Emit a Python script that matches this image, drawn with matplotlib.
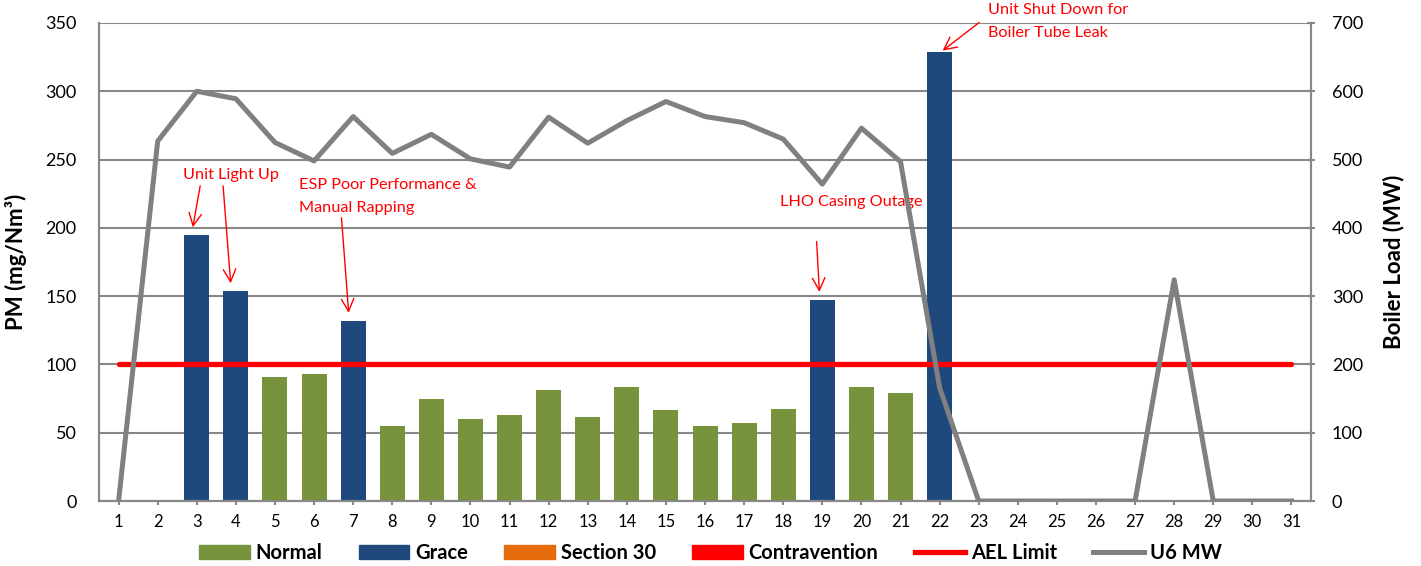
import numpy as np
import matplotlib
matplotlib.use("Agg")
import matplotlib.pyplot as plt
from matplotlib.patches import Patch
from matplotlib.lines import Line2D

plt.rcParams['font.family'] = ['Lato', 'DejaVu Sans']

days = list(range(1, 32))
normal = [np.nan, np.nan, np.nan, np.nan, 91, 93, np.nan, 55, 74.5, 60, 63, 81, 61.5, 83.5, 66.5,
          55, 57, 67.5, np.nan, 83.5, 79, np.nan] + [np.nan] * 9
grace = [np.nan, np.nan, 195, 154, np.nan, np.nan, 132, np.nan, np.nan, np.nan, np.nan, np.nan, np.nan,
         np.nan, np.nan, np.nan, np.nan, np.nan, 147.5, np.nan, np.nan, 329] + [np.nan] * 9
ael_limit = [100] * 31
u6_mw = [0, 527, 600, 589, 525, 498, 563, 509, 537, 501, 489, 562, 524, 557, 585, 563, 554, 530,
         464, 546, 497, 166, 0, 0, 0, 0, 0, 324, 0, 0, 0]

annotations = [
    ("Unit Light Up", (2.64, 238.5)),
    ("ESP Poor Performance &\nManual Rapping", (5.62, 223)),
    ("LHO Casing Outage", (17.91, 219)),
    ("Unit Shut Down for\nBoiler Tube Leak", (23.25, 351)),
]
arrows = [((3.10, 232.8), (2.885, 198.4)),
          ((3.667, 232.8), (3.872, 157.4)),
          ((6.696, 209.4), (6.89, 135.7)),
          ((18.85, 192), (18.93, 151)),
          ((23.07, 351.6), (22.02, 328.5))]

GREEN = '#77933C'
BLUE = '#1F497D'
ORANGE = '#E46C0A'
RED = '#FF0000'
GRAY = '#808080'
GRID = '#888888'

fig = plt.figure(figsize=(14.21, 5.66), dpi=100)
ax = fig.add_axes([0.0697, 0.1148, 0.8529, 0.8446])
ax2 = ax.twinx()

x = np.array(days)
ax.bar(x, normal, width=0.64, color=GREEN, zorder=2)
ax.bar(x, grace, width=0.64, color=BLUE, zorder=2)
ax.plot(x, ael_limit, color=RED, lw=3.8, solid_capstyle='round', zorder=3)
ax2.plot(x, u6_mw, color=GRAY, lw=3.6, zorder=4)

ax.set_xlim(0.5, 31.5)
ax.set_ylim(0, 350)
ax2.set_ylim(0, 700)
ax.set_yticks(range(0, 351, 50))
ax2.set_yticks(range(0, 701, 100))
ax.set_xticks(x)
ax.set_xticklabels([str(d) for d in days])
ax.yaxis.grid(True, color=GRID, lw=1.5, zorder=0)
ax.set_axisbelow(True)

for a in (ax, ax2):
    for s in a.spines.values():
        s.set_color(GRID)
        s.set_linewidth(1.5)
    a.spines['top'].set_visible(False)
ax.tick_params(axis='y', length=0, pad=16, labelsize=13)
ax.tick_params(axis='x', color=GRID, width=1.5, length=3, pad=6, labelsize=12)
ax2.tick_params(axis='y', color=GRID, width=1.5, length=6, direction='inout', pad=12, labelsize=13)

ax.set_ylabel("PM (mg/Nm³)", fontsize=16, fontweight='bold')
ax2.set_ylabel("Boiler Load (MW)", fontsize=16, fontweight='bold')
ax.yaxis.set_label_coords(-0.0594, 0.5)
ax2.yaxis.set_label_coords(1.0594, 0.5)

for txt, pos in annotations:
    ax.text(pos[0], pos[1], txt, color=RED, fontsize=11.7, ha='left', va='center',
            linespacing=1.75, zorder=6, clip_on=False)
for start, end in arrows:
    ax.annotate("", xy=end, xytext=start,
                arrowprops=dict(arrowstyle='->,head_length=0.9,head_width=0.45', color=RED, lw=1.0),
                zorder=6, annotation_clip=False)

handles = [Patch(color=GREEN, label='Normal'),
           Patch(color=BLUE, label='Grace'),
           Patch(color=ORANGE, label='Section 30'),
           Patch(color=RED, label='Contravention'),
           Line2D([0], [0], color=RED, lw=3.8, label='AEL Limit'),
           Line2D([0], [0], color=GRAY, lw=3.6, label='U6 MW')]
fig.legend(handles=handles, loc='center', bbox_to_anchor=(0.5, 0.023), ncol=6, frameon=False,
           prop={'size': 14.5, 'weight': 'bold'}, handlelength=2.5, handleheight=0.7,
           handletextpad=0.3, columnspacing=1.8)

fig.savefig("out.png", dpi=100)
